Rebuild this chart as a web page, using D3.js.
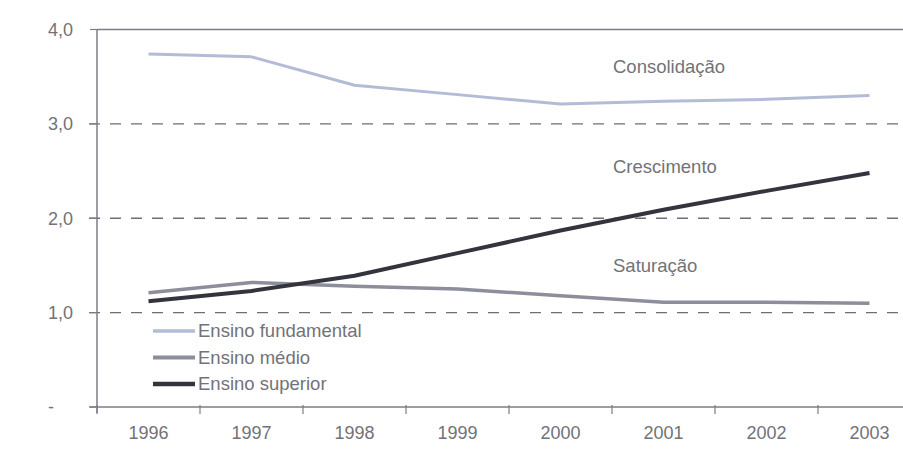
<!DOCTYPE html>
<html><head><meta charset="utf-8">
<script src="https://cdn.jsdelivr.net/npm/d3@7"></script>
<style>
body{margin:0;background:#fff;}
svg{display:block;font-family:"Liberation Sans",Arial,sans-serif;}
</style></head>
<body><svg id="c" width="903" height="454"></svg>
<script>
const years = ["1996","1997","1998","1999","2000","2001","2002","2003"];
const fundamental = [3.74, 3.71, 3.41, 3.31, 3.21, 3.24, 3.26, 3.30];
const medio       = [1.21, 1.32, 1.28, 1.25, 1.18, 1.11, 1.11, 1.10];
const superior    = [1.12, 1.23, 1.39, 1.63, 1.87, 2.09, 2.29, 2.48];
const yTicks = [0, 1, 2, 3, 4];
const yTickLabels = ["-", "1,0", "2,0", "3,0", "4,0"];
const seriesNames = ["Ensino fundamental", "Ensino médio", "Ensino superior"];
const phaseLabels = [["Consolidação", 3.61], ["Crescimento", 2.55], ["Saturação", 1.50]];

const svg = d3.select("#c");
const x = d3.scaleBand().domain(years).range([97, 97 + 8 * 103]).padding(0);
const y = d3.scaleLinear().domain([0, 4]).range([407, 29.5]);
const axisCol = "#7d7d85", textCol = "#727278";
const xLeft = 97, xRight = 903;

// top border
svg.append("line").attr("x1", xLeft).attr("x2", xRight).attr("y1", y(4)).attr("y2", y(4))
  .attr("stroke", axisCol).attr("stroke-width", 1.5);
// dashed gridlines
svg.selectAll(".grid").data([1, 2, 3]).enter().append("line")
  .attr("x1", xLeft - 8).attr("x2", xRight).attr("y1", d => y(d)).attr("y2", d => y(d))
  .attr("stroke", "#6e6e76").attr("stroke-width", 1.3).attr("stroke-dasharray", "11,10");
// y axis
svg.append("line").attr("x1", xLeft).attr("x2", xLeft).attr("y1", y(4)).attr("y2", y(0) + 6)
  .attr("stroke", axisCol).attr("stroke-width", 1.5);
svg.selectAll(".yt").data(yTicks).enter().append("line")
  .attr("x1", xLeft - 7).attr("x2", xLeft).attr("y1", d => y(d)).attr("y2", d => y(d))
  .attr("stroke", axisCol).attr("stroke-width", 1.2);
svg.selectAll(".yl").data(yTicks).enter().append("text")
  .attr("x", 48).attr("y", d => y(d)).attr("dy", "0.35em")
  .attr("font-size", 18).attr("fill", textCol)
  .text((d, i) => yTickLabels[i]);
// x axis
svg.append("line").attr("x1", xLeft - 8).attr("x2", xRight).attr("y1", y(0)).attr("y2", y(0))
  .attr("stroke", axisCol).attr("stroke-width", 1.5);
svg.selectAll(".xt").data(years).enter().append("line")
  .attr("x1", d => x(d)).attr("x2", d => x(d)).attr("y1", y(0) - 2).attr("y2", y(0) + 7)
  .attr("stroke", axisCol).attr("stroke-width", 1.2);
svg.selectAll(".xl").data(years).enter().append("text")
  .attr("x", d => x(d) + x.bandwidth() / 2).attr("y", 433).attr("dy", "0.35em")
  .attr("text-anchor", "middle").attr("font-size", 18).attr("fill", textCol).text(d => d);

// lines
const series = [
  {name: seriesNames[0], values: fundamental, color: "#b3bcd6", w: 3},
  {name: seriesNames[1], values: medio, color: "#8d8e9b", w: 3.5},
  {name: seriesNames[2], values: superior, color: "#33343d", w: 4}
];
const line = d3.line().x((d, i) => x(years[i]) + x.bandwidth() / 2).y(d => y(d));
series.forEach(s => {
  svg.append("path").attr("d", line(s.values)).attr("fill", "none")
    .attr("stroke", s.color).attr("stroke-width", s.w).attr("stroke-linejoin", "round");
});

// phase labels
svg.selectAll(".ph").data(phaseLabels).enter().append("text")
  .attr("x", 613).attr("y", d => y(d[1])).attr("dy", "0.35em")
  .attr("font-size", 18.5).attr("fill", textCol).text(d => d[0]);

// legend
const lg = svg.append("g");
series.forEach((s, i) => {
  const yy = 331 + i * 26.5;
  lg.append("line").attr("x1", 153).attr("x2", 195).attr("y1", yy).attr("y2", yy)
    .attr("stroke", s.color).attr("stroke-width", s.w + 0.5);
  lg.append("text").attr("x", 198).attr("y", yy).attr("dy", "0.35em")
    .attr("font-size", 18.5).attr("fill", textCol).text(s.name);
});
</script></body></html>
